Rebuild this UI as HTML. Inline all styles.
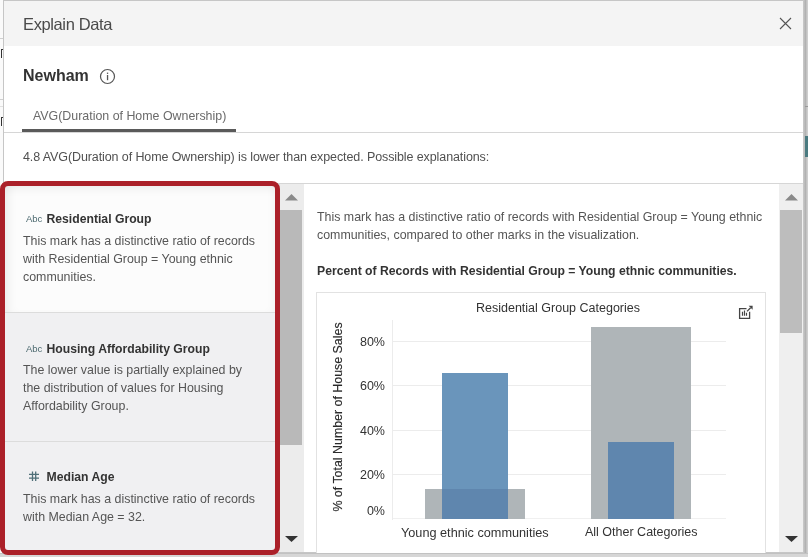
<!DOCTYPE html>
<html><head><meta charset="utf-8">
<style>
*{margin:0;padding:0;box-sizing:border-box}
html,body{width:808px;height:557px;overflow:hidden;background:#f3f3f3;font-family:"Liberation Sans",sans-serif;position:relative}
.a{position:absolute;white-space:nowrap;line-height:1}
#wrap{position:absolute;left:0;top:0;width:808px;height:557px;will-change:transform}
#dlg{position:absolute;left:3px;top:0;width:801px;height:553px;background:#fff;border:1px solid #c6c6c6;overflow:hidden}
</style></head><body><div id="wrap">
<!-- background strips -->
<div class="a" style="left:0;top:0;width:3px;height:557px;background:#fafafa"></div>
<div class="a" style="left:0;top:38px;width:3px;height:1px;background:#d0d0d0"></div>
<div class="a" style="left:0;top:99px;width:3px;height:1px;background:#d0d0d0"></div>
<div class="a" style="left:0;top:106px;width:3px;height:1px;background:#e0e0e0"></div>
<div class="a" style="left:1px;top:49px;width:2px;height:9px;border-left:1.3px solid #333;border-top:1.3px solid #333"></div>
<div class="a" style="left:1px;top:117px;width:2px;height:9px;border-left:1.3px solid #333;border-top:1.3px solid #333"></div>

<div id="dlg">
  <!-- header -->
  <div class="a" style="left:0;top:0;width:800px;height:45px;background:#f4f4f4"></div>
</div>

<!-- content positioned in page coordinates -->
<div class="a" style="left:23px;top:15.5px;font-size:16.5px;color:#4a4a4a;letter-spacing:-0.38px">Explain Data</div>
<svg class="a" style="left:779px;top:17px" width="13" height="13" viewBox="0 0 13 13"><path d="M1 1L12 12M12 1L1 12" stroke="#555" stroke-width="1.1"/></svg>

<div class="a" style="left:23px;top:67.5px;font-size:16px;font-weight:bold;color:#333">Newham</div>
<svg class="a" style="left:99px;top:68px" width="17" height="17" viewBox="0 0 17 17"><circle cx="8.5" cy="8.5" r="7" fill="none" stroke="#555" stroke-width="1.2"/><rect x="7.9" y="7" width="1.3" height="5.2" fill="#555"/><rect x="7.9" y="4.6" width="1.3" height="1.3" fill="#555"/></svg>

<div class="a" style="left:33px;top:110px;font-size:12.4px;color:#6a6a6a">AVG(Duration of Home Ownership)</div>
<div class="a" style="left:4px;top:132px;width:799px;height:1px;background:#d6d6d6"></div>
<div class="a" style="left:22px;top:129px;width:214px;height:3px;background:#5a5a5a"></div>

<div class="a" style="left:23px;top:151px;font-size:12.5px;color:#505050;letter-spacing:-0.1px">4.8 AVG(Duration of Home Ownership) is lower than expected. Possible explanations:</div>
<div class="a" style="left:4px;top:183px;width:799px;height:1px;background:#d6d6d6"></div>

<!-- left cards -->
<div class="a" style="left:4px;top:184px;width:276px;height:368px;background:#f0f0f2"></div>
<div class="a" style="left:4px;top:184px;width:276px;height:128px;background:#fcfcfc;box-shadow:inset 10px 0 14px -10px rgba(0,0,0,.12), inset -10px 0 14px -10px rgba(0,0,0,.12), inset 0 12px 12px -10px rgba(0,0,0,.10)"></div>
<div class="a" style="left:4px;top:312px;width:276px;height:1px;background:#dcdcdc"></div>
<div class="a" style="left:4px;top:441px;width:276px;height:1px;background:#dcdcdc"></div>

<div class="a" style="left:26px;top:214px;font-size:9.5px;color:#4d6a70">Abc</div>
<div class="a" style="left:46.5px;top:212.5px;font-size:12.2px;font-weight:bold;color:#333">Residential Group</div>
<div class="a" style="left:23px;top:233px;font-size:12.4px;line-height:17.8px;color:#555;white-space:normal;width:250px">This mark has a distinctive ratio of records<br>with Residential Group = Young ethnic<br>communities.</div>

<div class="a" style="left:26px;top:344px;font-size:9.5px;color:#4d6a70">Abc</div>
<div class="a" style="left:46.5px;top:342.5px;font-size:12.2px;font-weight:bold;color:#333">Housing Affordability Group</div>
<div class="a" style="left:23px;top:362px;font-size:12.4px;line-height:17.8px;color:#555;white-space:normal;width:250px">The lower value is partially explained by<br>the distribution of values for Housing<br>Affordability Group.</div>

<svg class="a" style="left:28px;top:471px" width="12" height="11" viewBox="0 0 12 11"><path d="M4.5 0.5V10M7.7 0.5V10M1 3.3H11M1 7.2H11" stroke="#4f6f78" stroke-width="1.3" fill="none"/></svg>
<div class="a" style="left:46.5px;top:471px;font-size:12.2px;font-weight:bold;color:#333">Median Age</div>
<div class="a" style="left:23px;top:491px;font-size:12.4px;line-height:17.8px;color:#555;white-space:normal;width:250px">This mark has a distinctive ratio of records<br>with Median Age = 32.</div>

<!-- left scrollbar -->
<div class="a" style="left:280px;top:184px;width:24px;height:368px;background:#ececec"></div>
<div class="a" style="left:280px;top:210px;width:22px;height:235px;background:#b9b9b9"></div>
<svg class="a" style="left:285px;top:194px" width="13" height="7"><path d="M0 6.5L6.5 0L13 6.5Z" fill="#8a8a8a"/></svg>
<svg class="a" style="left:285px;top:536px" width="13" height="7"><path d="M0 0L13 0L6.5 6Z" fill="#333"/></svg>

<!-- right panel -->
<div class="a" style="left:317px;top:208px;font-size:12.4px;line-height:18px;color:#555">This mark has a distinctive ratio of records with Residential Group = Young ethnic<br>communities, compared to other marks in the visualization.</div>
<div class="a" style="left:317px;top:265px;font-size:12.2px;font-weight:bold;color:#333">Percent of Records with Residential Group = Young ethnic communities.</div>

<!-- chart box -->
<div class="a" style="left:316px;top:292px;width:450px;height:270px;border:1px solid #e2e2e2;background:#fff"></div>
<div class="a" style="left:476px;top:302px;font-size:12.5px;color:#333">Residential Group Categories</div>
<svg class="a" style="left:736px;top:304px" width="20" height="18" viewBox="0 0 20 18"><path d="M10.5 4.6H3.6V14.3H13.6V7.8" fill="none" stroke="#444" stroke-width="1.3"/><path d="M11 7.4L14.6 3.8" stroke="#444" stroke-width="1.3"/><path d="M12.6 1.8H16.6V5.8Z" fill="#444"/><path d="M6.5 7.8V11.8M8.5 6.4V11.8M10.5 8.8V11.8" stroke="#444" stroke-width="1.2"/></svg>

<!-- gridlines -->
<div class="a" style="left:392px;top:320px;width:1px;height:200px;background:#ececec"></div>
<div class="a" style="left:393px;top:341px;width:333px;height:1px;background:#ececec"></div>
<div class="a" style="left:393px;top:385px;width:333px;height:1px;background:#ececec"></div>
<div class="a" style="left:393px;top:430px;width:333px;height:1px;background:#ececec"></div>
<div class="a" style="left:393px;top:474px;width:333px;height:1px;background:#ececec"></div>
<div class="a" style="left:393px;top:518px;width:333px;height:1px;background:#f0f0f0"></div>

<div class="a" style="right:423px;top:336px;font-size:12.5px;color:#333">80%</div>
<div class="a" style="right:423px;top:380px;font-size:12.5px;color:#333">60%</div>
<div class="a" style="right:423px;top:425px;font-size:12.5px;color:#333">40%</div>
<div class="a" style="right:423px;top:469px;font-size:12.5px;color:#333">20%</div>
<div class="a" style="right:423px;top:505px;font-size:12.5px;color:#333">0%</div>

<div class="a" style="left:338px;top:417px;font-size:12.4px;color:#2a2a2a;-webkit-text-stroke:0.15px #2a2a2a;transform:translate(-50%,-50%) rotate(-90deg)">% of Total Number of House Sales</div>

<!-- bars -->
<div class="a" style="left:425px;top:489px;width:100px;height:30px;background:#afb5b8"></div>
<div class="a" style="left:591px;top:327px;width:100px;height:192px;background:#afb5b8"></div>
<div class="a" style="left:442px;top:373px;width:66px;height:116px;background:#6a95bb"></div>
<div class="a" style="left:442px;top:489px;width:66px;height:30px;background:#5f86ae"></div>
<div class="a" style="left:608px;top:442px;width:66px;height:77px;background:#5f86ae"></div>

<div class="a" style="left:401px;top:526.5px;font-size:12.7px;color:#333">Young ethnic communities</div>
<div class="a" style="left:585px;top:526px;font-size:12.5px;color:#333">All Other Categories</div>

<!-- right scrollbar -->
<div class="a" style="left:779px;top:184px;width:24px;height:368px;background:#efefef"></div>
<div class="a" style="left:780px;top:210px;width:22px;height:123px;background:#bdbdbd"></div>
<svg class="a" style="left:785px;top:194px" width="13" height="7"><path d="M0 6.5L6.5 0L13 6.5Z" fill="#8a8a8a"/></svg>
<svg class="a" style="left:785px;top:536px" width="13" height="7"><path d="M0 0L13 0L6.5 6Z" fill="#333"/></svg>

<!-- right strip -->
<div class="a" style="left:804px;top:0;width:4px;height:557px;background:linear-gradient(to right,#c4c4c4,#b0b0b0 35%,#c8c8c8 70%,#d2d2d2)"></div>
<div class="a" style="left:805px;top:106px;width:3px;height:1px;background:#999"></div>
<div class="a" style="left:805px;top:136px;width:3px;height:21px;background:#4a7a80"></div>
<!-- bottom strip -->
<div class="a" style="left:0;top:553px;width:808px;height:4px;background:#d6d6d6;border-top:1px solid #c2c2c2"></div>
<!-- red box -->
<div class="a" style="left:0;top:181px;width:280px;height:374px;border:5px solid #ab2029;border-radius:8px"></div>

</div></body></html>
